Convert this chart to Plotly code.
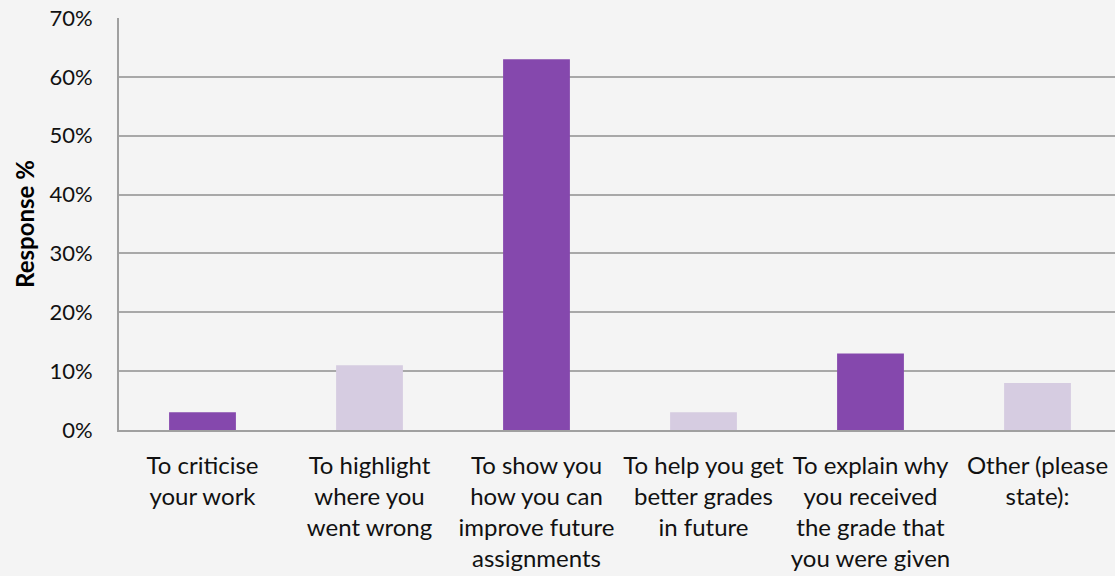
import plotly.graph_objects as go

categories = [
    "To criticise<br>your work",
    "To highlight<br>where you<br>went wrong",
    "To show you<br>how you can<br>improve future<br>assignments",
    "To help you get<br>better grades<br>in future",
    "To explain why<br>you received<br>the grade that<br>you were given",
    "Other (please<br>state):",
]
values = [3, 11, 63, 3, 13, 8]
bar_colors = ["#8548AD", "#D6CCE1", "#8548AD", "#D6CCE1", "#8548AD", "#D6CCE1"]
y_ticks = [0, 10, 20, 30, 40, 50, 60, 70]
y_ticktext = [f"{v}%" for v in y_ticks]

font_family = "Lato, Open Sans, sans-serif"

fig = go.Figure(
    go.Bar(
        x=categories,
        y=values,
        marker=dict(color=bar_colors, line=dict(width=0)),
        hoverinfo="skip",
    )
)

fig.update_layout(
    width=1121,
    height=576,
    margin=dict(l=119, r=0, t=18, b=146),
    paper_bgcolor="#F4F4F4",
    plot_bgcolor="#F4F4F4",
    bargap=0.6,
    showlegend=False,
    font=dict(family=font_family, color="#000000"),
)

fig.update_xaxes(
    showline=True,
    linecolor="#A0A0A0",
    linewidth=2,
    showgrid=False,
    ticks="",
    tickfont=dict(size=24, family=font_family, color="#111111"),
    ticklabelstandoff=13,
    tickangle=0,
)

fig.update_yaxes(
    range=[0, 70],
    tickvals=y_ticks,
    ticktext=y_ticktext,
    showline=True,
    linecolor="#A0A0A0",
    linewidth=2,
    showgrid=True,
    gridcolor="#A8A8A8",
    gridwidth=2,
    zeroline=False,
    ticks="",
    ticklabelstandoff=20,
    tickfont=dict(size=22, family=font_family, color="#111111"),
    title=dict(
        text="<b>Response %</b>",
        font=dict(size=24, family=font_family, color="#000000"),
        standoff=8,
    ),
)

fig.write_html(
    "out.html",
    config={"displayModeBar": False},
    post_script=(
        "document.body.style.margin='0';"
        "document.body.style.overflow='hidden';"
        "document.body.style.background='#F4F4F4';"
    ),
)
